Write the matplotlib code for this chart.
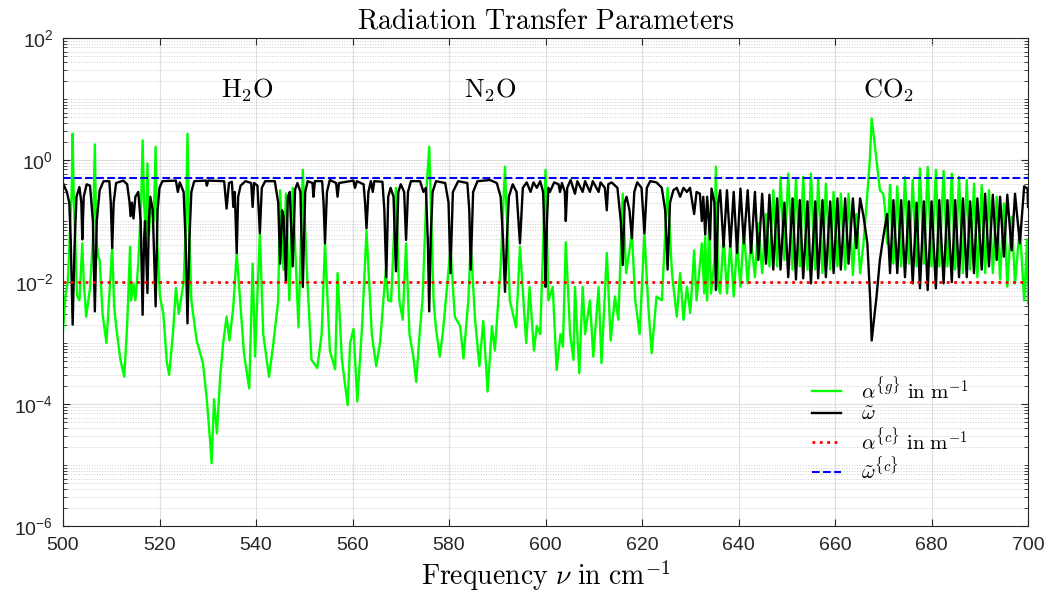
import numpy as np
import matplotlib
matplotlib.use("Agg")
import matplotlib.pyplot as plt
from matplotlib.ticker import LogLocator, NullFormatter

plt.rcParams['font.family'] = ['Liberation Sans', 'DejaVu Sans']
plt.rcParams['mathtext.fontset'] = 'cm'

# --- data (frequency in cm^-1, value) ---
# omega tilde (black)
omega_h2o = [
    (500.0, 0.42), (500.4, 0.35), (500.8, 0.30), (501.3, 0.20), (501.6, 0.05), (502.0, 0.002),
    (502.4, 0.04), (502.8, 0.25), (503.4, 0.36), (503.8, 0.20), (504.0, 0.05), (504.3, 0.25),
    (504.9, 0.40), (505.6, 0.38), (506.2, 0.10), (506.6, 0.0033), (507.0, 0.10), (507.6, 0.32),
    (508.4, 0.45), (509.6, 0.45), (509.9, 0.20), (510.2, 0.036), (510.5, 0.20), (511.0, 0.42),
    (512.5, 0.46), (513.3, 0.40), (513.8, 0.20), (514.0, 0.12), (514.3, 0.20), (514.6, 0.11),
    (515.0, 0.25), (515.6, 0.30), (516.1, 0.10), (516.5, 0.0029), (516.8, 0.05), (517.0, 0.10),
    (517.5, 0.0066), (517.8, 0.10), (518.1, 0.25), (518.6, 0.15), (519.2, 0.004), (519.6, 0.15),
    (520.0, 0.35), (520.6, 0.45), (523.4, 0.46), (523.8, 0.30), (524.2, 0.43), (525.0, 0.30),
    (525.4, 0.05), (525.8, 0.0021), (526.2, 0.05), (526.6, 0.30), (527.2, 0.45), (529.6, 0.46),
    (529.8, 0.38), (530.1, 0.46), (533.4, 0.45), (533.9, 0.16), (534.4, 0.42), (535.0, 0.44),
    (535.3, 0.17), (535.6, 0.30), (536.0, 0.03), (536.3, 0.25), (536.8, 0.38), (537.8, 0.45),
    (539.0, 0.42), (539.3, 0.17), (539.6, 0.42), (540.3, 0.38), (540.8, 0.063), (541.2, 0.35),
    (541.9, 0.45), (543.9, 0.45), (544.6, 0.20),
]
omega_n2o = [
    (545.0, 0.02), (545.4, 0.15), (545.7, 0.12), (546.2, 0.01), (546.6, 0.25), (547.0, 0.30),
    (547.6, 0.018), (548.1, 0.33), (548.6, 0.42), (549.2, 0.30), (549.7, 0.0083), (550.2, 0.30),
    (550.7, 0.45), (551.7, 0.42), (551.9, 0.25), (552.2, 0.45), (553.7, 0.45), (554.0, 0.20),
    (554.3, 0.043), (554.7, 0.30), (555.3, 0.47), (556.6, 0.42), (556.9, 0.25), (557.2, 0.42),
    (560.2, 0.46), (560.5, 0.35), (560.9, 0.45), (562.3, 0.40), (562.6, 0.20), (562.9, 0.076),
    (563.3, 0.30), (563.8, 0.45), (564.2, 0.30), (564.5, 0.45), (566.2, 0.44), (566.6, 0.15),
    (567.0, 0.012), (567.4, 0.25), (567.9, 0.35), (568.5, 0.25), (569.0, 0.015), (569.5, 0.30),
    (570.0, 0.40), (570.7, 0.30), (571.1, 0.049), (571.5, 0.30), (572.1, 0.45), (574.0, 0.45),
    (574.7, 0.30), (575.2, 0.35), (575.6, 0.05), (575.9, 0.0033), (576.2, 0.05), (576.6, 0.30),
    (577.3, 0.45), (579.2, 0.42), (579.9, 0.20), (580.3, 0.014), (580.8, 0.30), (581.9, 0.45),
    (583.8, 0.42), (584.2, 0.15), (584.5, 0.016), (585.0, 0.30), (585.9, 0.45), (588.5, 0.47),
    (589.9, 0.42), (590.7, 0.25), (591.2, 0.05), (591.6, 0.0069), (592.0, 0.05), (592.4, 0.25),
    (593.2, 0.40), (594.0, 0.30), (594.7, 0.043), (595.3, 0.35), (596.1, 0.43), (596.9, 0.30),
    (597.5, 0.43), (598.2, 0.35), (598.9, 0.45), (599.5, 0.30), (599.8, 0.05),
]
omega_mid = [
    (600.0, 0.0083), (600.3, 0.10), (600.6, 0.35), (600.9, 0.30), (601.8, 0.43), (602.7, 0.40),
    (603.0, 0.30), (603.4, 0.42), (604.0, 0.30), (604.2, 0.10), (604.5, 0.35), (605.2, 0.47),
    (606.1, 0.28), (606.6, 0.45), (607.7, 0.30), (608.2, 0.45), (609.2, 0.30), (609.8, 0.45),
    (611.0, 0.30), (611.4, 0.43), (612.3, 0.35), (612.7, 0.15), (613.0, 0.40), (613.7, 0.43),
    (614.9, 0.35), (615.6, 0.10), (616.0, 0.019), (616.4, 0.20), (616.8, 0.25), (617.4, 0.15),
    (617.9, 0.052), (618.4, 0.30), (619.0, 0.43), (619.9, 0.35), (620.5, 0.063), (621.0, 0.35),
    (621.7, 0.45), (623.0, 0.43), (624.1, 0.35), (624.8, 0.15), (625.3, 0.016), (625.8, 0.20),
    (626.5, 0.32), (627.2, 0.35), (627.9, 0.25), (628.6, 0.35), (629.3, 0.30), (629.95, 0.35),
    (630.8, 0.13), (631.3, 0.30), (632.0, 0.28), (632.4, 0.10), (632.7, 0.25), (633.1, 0.06),
    (633.5, 0.25), (634.1, 0.05), (634.4, 0.34), (635.0, 0.20),
]
omega_co2_p = [
    (635.3, 0.0074), (635.8, 0.20), (636.2, 0.32), (636.9, 0.038), (637.6, 0.32), (638.3, 0.038),
    (639.0, 0.30), (639.7, 0.030), (640.4, 0.34), (641.1, 0.043), (641.9, 0.32), (642.6, 0.030),
    (643.4, 0.30), (644.1, 0.023), (644.9, 0.28), (645.7, 0.020), (646.4, 0.27), (647.2, 0.016),
    (648.0, 0.235), (648.7, 0.016), (649.5, 0.20), (650.3, 0.012), (651.2, 0.235), (651.9, 0.011),
    (652.7, 0.22), (653.4, 0.0115), (654.3, 0.21), (655.0, 0.0095), (655.9, 0.21), (656.5, 0.0115),
    (657.4, 0.22), (658.1, 0.012), (659.0, 0.21), (659.7, 0.014), (660.5, 0.235), (661.2, 0.016),
    (662.1, 0.235), (662.8, 0.020), (663.7, 0.235), (664.4, 0.036), (665.2, 0.235), (665.9, 0.12),
    (666.7, 0.043), (667.3, 0.005), (667.6, 0.0011),
]
omega_co2_r = [
    (668.6, 0.0058), (669.3, 0.023), (670.0, 0.055), (670.8, 0.13), (671.4, 0.014), (672.1, 0.22),
    (672.9, 0.014), (673.7, 0.22), (674.5, 0.012), (675.3, 0.21), (676.1, 0.0095), (676.9, 0.20),
    (677.6, 0.0079), (678.4, 0.21), (679.2, 0.0074), (680.0, 0.21), (680.9, 0.0079), (681.6, 0.22),
    (682.5, 0.0095), (683.3, 0.22), (684.2, 0.010), (684.9, 0.22), (685.7, 0.012), (686.5, 0.235),
    (687.3, 0.012), (688.0, 0.21), (688.8, 0.014), (689.5, 0.235), (690.4, 0.016), (691.1, 0.28),
    (691.9, 0.018), (692.7, 0.27), (693.5, 0.023), (694.2, 0.25), (695.0, 0.026), (695.7, 0.27),
    (696.6, 0.033), (697.3, 0.28), (698.3, 0.043), (699.2, 0.37), (699.9, 0.34), (700.0, 0.17),
]

# alpha^{g} (green)
alpha_h2o = [
    (500.0, 0.0016), (500.5, 0.006), (501.0, 0.010), (501.5, 0.08), (501.8, 0.3), (502.0, 2.7),
    (502.2, 0.3), (502.5, 0.06), (502.9, 0.006), (503.4, 0.005), (503.8, 0.02), (504.0, 0.043),
    (504.3, 0.01), (504.8, 0.0027), (505.6, 0.008), (506.2, 0.05), (506.6, 1.8), (506.9, 0.05),
    (507.3, 0.026), (507.6, 0.023), (508.2, 0.003), (509.0, 0.001), (509.6, 0.006), (510.2, 0.038),
    (510.6, 0.004), (511.0, 0.0019), (511.9, 5.3e-4), (512.7, 2.8e-4), (513.3, 0.002), (513.9, 0.038),
    (514.1, 0.005), (514.6, 0.0095), (515.0, 0.005), (515.6, 0.02), (516.2, 0.2), (516.5, 2.1),
    (516.8, 0.2), (517.2, 0.05), (517.5, 0.88), (517.8, 0.06), (518.3, 0.2), (518.8, 0.1),
    (519.2, 1.65), (519.5, 0.05), (520.1, 0.0058), (520.8, 0.003), (521.5, 5e-4), (522.0, 3e-4),
    (522.8, 0.0015), (523.4, 0.008), (524.0, 0.003), (525.0, 0.01), (525.5, 0.1), (525.8, 2.7),
    (526.1, 0.1), (526.6, 0.005), (527.7, 0.0011), (529.0, 4.7e-4), (529.8, 1.2e-4), (530.4, 3e-5),
    (530.8, 1.07e-5), (531.3, 1.2e-4), (531.9, 3.3e-5), (532.6, 3e-4), (533.2, 0.001), (533.9, 0.0027),
    (534.5, 0.0011), (535.3, 0.004), (536.0, 0.03), (536.7, 0.005), (537.5, 6.8e-4), (538.6, 1.8e-4),
    (539.3, 0.02), (539.8, 6e-4), (540.8, 0.063), (541.5, 0.0014), (542.7, 2.8e-4), (543.6, 0.001),
    (544.6, 0.005),
]
alpha_n2o = [
    (545.0, 0.32), (545.7, 0.016), (546.2, 0.28), (546.9, 0.005), (547.6, 0.35), (548.8, 0.0018),
    (549.7, 0.69), (550.5, 0.018), (551.5, 5.3e-4), (552.7, 3.9e-4), (553.6, 0.0014), (554.3, 0.043),
    (555.3, 7.5e-4), (556.4, 3.7e-4), (556.9, 0.014), (557.8, 5.3e-4), (559.0, 9.6e-5), (559.5, 0.001),
    (560.2, 0.0017), (561.0, 1.1e-4), (562.0, 0.002), (562.9, 0.07), (564.0, 0.0014), (564.9, 4.2e-4),
    (565.7, 0.001), (566.9, 0.016), (567.4, 0.005), (568.0, 0.0048), (569.0, 0.35), (569.7, 0.005),
    (570.4, 0.0024), (571.1, 0.043), (571.8, 0.0014), (572.6, 6e-4), (573.2, 2.3e-4), (573.9, 0.0014),
    (574.5, 0.005), (575.4, 0.4), (575.9, 1.65), (576.8, 0.005), (577.3, 0.0017), (578.1, 6e-4),
    (578.8, 0.0017), (580.3, 0.036), (581.2, 0.0027), (582.3, 0.0019), (583.0, 5.6e-4), (584.0, 0.005),
    (584.5, 0.043), (585.4, 0.0024), (586.3, 4.2e-4), (587.1, 0.0023), (588.0, 1.6e-4), (588.9, 0.0019),
    (589.5, 7.5e-4), (590.7, 0.018), (591.6, 0.78), (592.6, 0.005), (593.9, 0.0018), (594.7, 0.038),
    (596.0, 0.001), (596.7, 0.0083), (597.6, 7.5e-4), (598.2, 0.0019), (598.9, 0.0014),
]
alpha_mid = [
    (600.0, 0.69), (600.6, 0.005), (601.5, 0.0083), (602.3, 3.6e-4), (603.1, 0.0014), (603.6, 8.7e-4),
    (604.2, 0.045), (605.1, 0.0014), (605.8, 5.3e-4), (606.1, 0.0083), (607.0, 3.2e-4), (607.7, 0.0083),
    (608.2, 0.0014), (609.2, 0.005), (609.9, 6e-4), (611.0, 0.0083), (611.6, 4.7e-4), (612.7, 0.03),
    (613.5, 0.0011), (614.4, 0.0058), (615.1, 0.0024), (616.0, 0.28), (616.7, 0.014), (617.9, 0.063),
    (618.6, 0.005), (619.5, 0.0014), (620.5, 0.063), (621.3, 0.004), (622.0, 6.8e-4), (623.0, 0.0058),
    (624.1, 0.005), (625.3, 0.35), (626.2, 0.014), (627.2, 0.0027), (627.9, 0.014), (628.6, 0.0024),
    (629.3, 0.0083), (630.0, 0.0031), (630.8, 0.033), (631.3, 0.005), (632.4, 0.043), (632.9, 0.0065),
    (633.1, 0.055), (633.5, 0.005), (633.9, 0.1), (634.3, 0.0065), (635.0, 0.023),
]
alpha_co2_p = [
    (635.3, 0.78), (635.8, 0.0084), (636.2, 0.0065), (636.9, 0.055), (637.6, 0.0065), (638.3, 0.046),
    (639.0, 0.0058), (639.7, 0.043), (640.4, 0.0084), (641.1, 0.071), (641.9, 0.0095), (642.6, 0.049),
    (643.4, 0.012), (644.1, 0.091), (644.9, 0.014), (645.7, 0.13), (646.4, 0.018), (647.2, 0.32),
    (648.0, 0.018), (648.7, 0.53), (649.5, 0.023), (650.3, 0.6), (651.2, 0.016), (651.9, 0.5),
    (652.7, 0.018), (653.4, 0.53), (654.3, 0.016), (655.0, 0.6), (655.9, 0.016), (656.5, 0.5),
    (657.4, 0.014), (658.1, 0.41), (659.0, 0.016), (659.7, 0.30), (660.5, 0.018), (661.2, 0.28),
    (662.1, 0.016), (662.8, 0.28), (663.7, 0.013), (664.4, 0.13), (665.2, 0.014), (665.9, 0.043),
    (666.7, 0.28), (667.2, 1.0), (667.6, 4.8),
]
alpha_co2_r = [
    (668.6, 1.0), (669.3, 0.32), (670.0, 0.28), (670.4, 0.15), (670.8, 0.043), (671.4, 0.39),
    (672.1, 0.02), (672.9, 0.37), (673.7, 0.018), (674.5, 0.53), (675.3, 0.02), (676.1, 0.47),
    (676.9, 0.018), (677.6, 0.73), (678.4, 0.02), (679.2, 0.77), (680.0, 0.018), (680.9, 0.69),
    (681.6, 0.018), (682.5, 0.66), (683.3, 0.018), (684.2, 0.6), (684.9, 0.016), (685.7, 0.53),
    (686.5, 0.014), (687.3, 0.47), (688.0, 0.016), (688.8, 0.41), (689.5, 0.012), (690.4, 0.39),
    (691.1, 0.014), (691.9, 0.32), (692.7, 0.014), (693.5, 0.25), (694.2, 0.011), (695.0, 0.195),
    (695.7, 0.0084), (696.6, 0.118), (697.3, 0.0095), (698.3, 0.08), (699.2, 0.005), (699.8, 0.05),
    (700.0, 0.0045),
]

alpha_c = 0.01   # constant alpha^{c}
omega_c = 0.5    # constant omega^{c}

bands = ['H_2O', 'N_2O', 'CO_2']
band_nu = [538.3, 588.7, 671.0]

omega = np.array(omega_h2o + omega_n2o + omega_mid + omega_co2_p + omega_co2_r)
alpha = np.array(alpha_h2o + alpha_n2o + alpha_mid + alpha_co2_p + alpha_co2_r)

fig = plt.figure(figsize=(10.57, 5.96), dpi=100)
ax = fig.add_axes([0.0596, 0.1174, 0.913, 0.8188])

ax.semilogy(alpha[:, 0], alpha[:, 1], color='#00ff00', lw=1.7,
            label=r'$\alpha^{\{g\}}\ \mathrm{in\ m}^{-1}$')
ax.semilogy(omega[:, 0], omega[:, 1], color='black', lw=1.7,
            label=r'$\tilde{\omega}$')
ax.axhline(alpha_c, color='red', ls=':', lw=2,
           label=r'$\alpha^{\{c\}}\ \mathrm{in\ m}^{-1}$')
ax.axhline(omega_c, color='blue', ls='--', lw=1.5,
           label=r'$\tilde{\omega}^{\{c\}}$')

for name, nu in zip(bands, band_nu):
    ax.text(nu, 14, r'$\mathrm{' + name + '}$', ha='center', va='center', fontsize=19)

ax.set_xlim(500, 700)
ax.set_ylim(1e-6, 1e2)
ax.set_xticks(np.arange(500, 701, 20))
ax.set_yticks([1e-6, 1e-4, 1e-2, 1e0, 1e2])
ax.yaxis.set_minor_locator(LogLocator(base=10, subs=np.arange(1, 10), numticks=100))
ax.yaxis.set_minor_formatter(NullFormatter())
ax.tick_params(which='both', direction='in', top=True, right=True, labelsize=14,
               colors='#262626')
ax.tick_params(which='major', length=5)
ax.tick_params(which='minor', length=3)
ax.tick_params(axis='x', pad=8)
ax.tick_params(axis='y', pad=7)
for s in ax.spines.values():
    s.set_color('#262626')

ax.grid(True, which='major', color='#dedede', lw=0.8)
ax.yaxis.grid(True, which='minor', color='#cfcfcf', ls=':', lw=0.7)
ax.set_axisbelow(True)

ax.set_title(r'$\mathrm{Radiation\ Transfer\ Parameters}$', fontsize=20, pad=7)
ax.set_xlabel(r'$\mathrm{Frequency}\ \nu\ \mathrm{in\ cm}^{-1}$', fontsize=20, labelpad=3)

ax.legend(loc='upper left', bbox_to_anchor=(0.768, 0.325), frameon=False, fontsize=15,
          handlelength=1.35, handletextpad=1.0, labelspacing=0.12, borderaxespad=0)

fig.savefig('out.png', dpi=100)
